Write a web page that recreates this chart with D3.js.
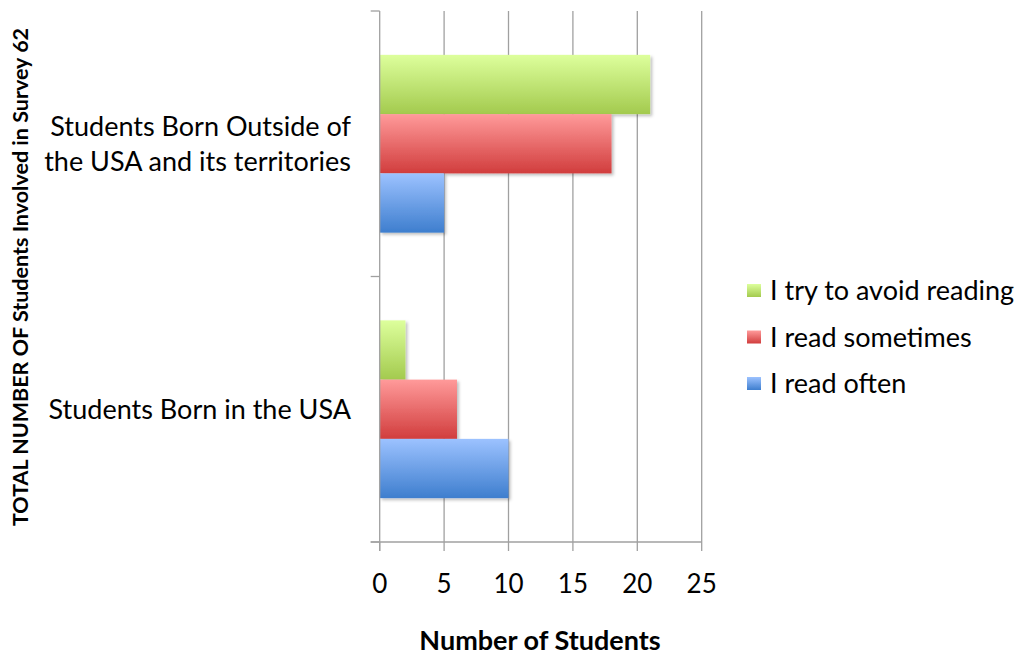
<!DOCTYPE html>
<html><head><meta charset="utf-8">
<script src="https://cdn.jsdelivr.net/npm/d3@7"></script>
<style>body{margin:0;background:#fff;} text{font-family:Lato, "Open Sans", sans-serif;}</style>
</head><body>
<svg id="c" width="1021" height="656"></svg>
<script>
const categories = ["Students Born Outside of the USA and its territories", "Students Born in the USA"];
const categoryLines = [["Students Born Outside of", "the USA and its territories"], ["Students Born in the USA"]];
const seriesNames = ["I try to avoid reading", "I read sometimes", "I read often"];
const avoidReading = [21, 2];
const readSometimes = [18, 6];
const readOften = [5, 10];
const xTicks = [0, 5, 10, 15, 20, 25];
const xTitle = "Number of Students";
const yTitle = "TOTAL NUMBER OF  Students Involved in Survey 62";

(function () {
const seriesValues = [avoidReading, readSometimes, readOften];
const grads = [["#ddff9c", "#a3ca4e"], ["#ff9a9a", "#d13d3d"], ["#9cc2ff", "#3e7ece"]];

const svg = d3.select("#c");
const defs = svg.append("defs");
grads.forEach((g, i) => {
  const lg = defs.append("linearGradient").attr("id", "g" + i).attr("x1", 0).attr("y1", 0).attr("x2", 0).attr("y2", 1);
  lg.append("stop").attr("offset", "0%").attr("stop-color", g[0]);
  lg.append("stop").attr("offset", "100%").attr("stop-color", g[1]);
});
const f = defs.append("filter").attr("id", "sh").attr("x", "-5%").attr("y", "-10%").attr("width", "120%").attr("height", "130%");
f.append("feDropShadow").attr("dx", 2).attr("dy", 2).attr("stdDeviation", 1.5).attr("flood-color", "#000").attr("flood-opacity", 0.25);

const pL = 379.7, pR = 701.7, pT = 11, pB = 542;
const x = d3.scaleLinear().domain([0, 25]).range([pL, pR]);
const y = d3.scaleBand().domain(categories).range([pT, pB]);
const inner = d3.scaleBand().domain(seriesNames).range([0, y.bandwidth()]).paddingOuter(0.74).paddingInner(0);

svg.append("g").selectAll("line").data(xTicks.slice(1)).join("line")
  .attr("x1", d => x(d)).attr("x2", d => x(d)).attr("y1", pT).attr("y2", pB)
  .attr("stroke", "#a0a0a0").attr("stroke-width", 1.3);

categories.forEach((c, ci) => {
  seriesNames.forEach((s, si) => {
    svg.append("rect")
      .attr("x", x(0)).attr("y", y(c) + inner(s))
      .attr("width", x(seriesValues[si][ci]) - x(0))
      .attr("height", inner.bandwidth())
      .attr("fill", `url(#g${si})`).attr("filter", "url(#sh)");
  });
});

svg.append("line").attr("x1", pL).attr("x2", pL).attr("y1", pT).attr("y2", pB + 9).attr("stroke", "#a0a0a0").attr("stroke-width", 1.3);
[pT, y(categories[1]), pB].forEach(v => {
  svg.append("line").attr("x1", pL - 9).attr("x2", pL).attr("y1", v).attr("y2", v).attr("stroke", "#a0a0a0").attr("stroke-width", 1.3);
});
svg.append("line").attr("x1", pL - 9).attr("x2", pR).attr("y1", pB).attr("y2", pB).attr("stroke", "#a0a0a0").attr("stroke-width", 1.3);
svg.append("g").selectAll("line").data(xTicks).join("line")
  .attr("x1", d => x(d)).attr("x2", d => x(d)).attr("y1", pB).attr("y2", pB + 9)
  .attr("stroke", "#a0a0a0").attr("stroke-width", 1.3);
svg.append("g").selectAll("text").data(xTicks).join("text")
  .attr("x", d => x(d)).attr("y", 593).attr("text-anchor", "middle")
  .attr("font-size", 26).attr("fill", "#000").text(d => d);

svg.append("text").attr("x", 540).attr("y", 650).attr("text-anchor", "middle")
  .attr("font-size", 27).attr("font-weight", "bold").text(xTitle);

categories.forEach((c, ci) => {
  const lines = categoryLines[ci];
  const cy = y(c) + y.bandwidth() / 2;
  const lh = 35;
  lines.forEach((l, li) => {
    svg.append("text").attr("x", 351).attr("y", cy + (li - (lines.length - 1) / 2) * lh + 10)
      .attr("text-anchor", "end").attr("font-size", 27).text(l);
  });
});

svg.append("text").attr("transform", "translate(28,277) rotate(-90)").attr("text-anchor", "middle")
  .attr("font-size", 21.5).attr("font-weight", "bold").text(yTitle);

seriesNames.forEach((s, i) => {
  const ly = 300 + i * 46.5;
  svg.append("rect").attr("x", 747).attr("y", ly - 16).attr("width", 14).attr("height", 13).attr("fill", `url(#g${i})`);
  svg.append("text").attr("x", 770).attr("y", ly).attr("font-size", 27).text(s);
});
})();
</script>
</body></html>
